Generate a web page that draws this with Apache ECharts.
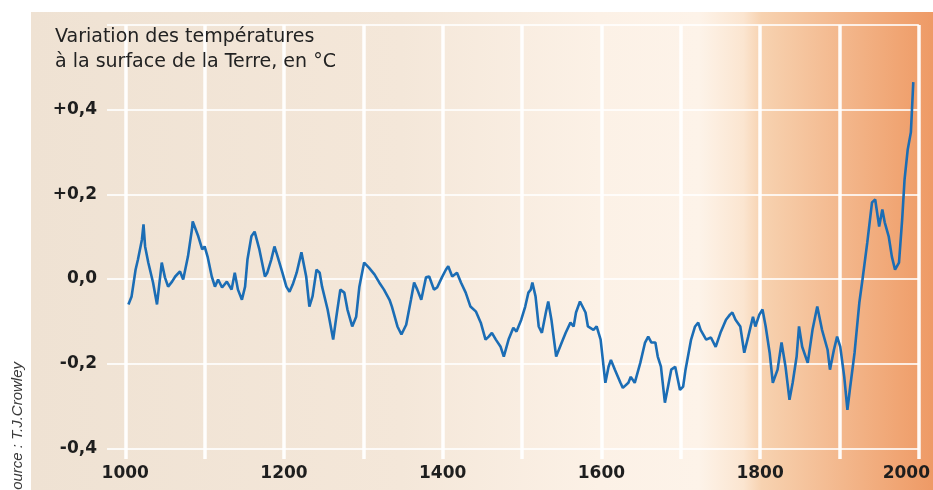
<!DOCTYPE html>
<html>
<head>
<meta charset="utf-8">
<script src="https://cdn.jsdelivr.net/npm/echarts@6/dist/echarts.min.js"></script>
<style>
html,body{margin:0;padding:0;background:#fff;}
#chart{width:933px;height:490px;}
</style>
</head>
<body>
<div id="chart"></div>
<script>
// Data
var years = [1004,1008,1013,1016,1021,1023,1025,1029,1035,1040,1046,1050,1054,1059,1063,1069,1073,1079,1084,1085,1092,1097,1100,1104,1109,1113,1117,1122,1128,1134,1138,1142,1147,1151,1154,1159,1163,1169,1176,1179,1184,1188,1192,1198,1203,1207,1211,1216,1222,1228,1232,1236,1241,1245,1248,1255,1262,1266,1271,1276,1280,1286,1291,1295,1301,1307,1314,1320,1326,1333,1336,1343,1348,1354,1360,1364,1368,1373,1379,1383,1389,1393,1399,1404,1407,1412,1418,1423,1429,1435,1442,1448,1454,1458,1462,1467,1473,1477,1483,1489,1493,1499,1504,1508,1511,1513,1517,1521,1525,1530,1533,1537,1543,1550,1555,1561,1565,1568,1573,1580,1583,1590,1594,1599,1605,1609,1612,1617,1624,1627,1634,1637,1642,1649,1655,1659,1663,1668,1671,1675,1680,1684,1688,1693,1699,1703,1706,1713,1718,1722,1725,1732,1738,1744,1750,1757,1762,1765,1769,1775,1780,1785,1791,1794,1799,1803,1807,1812,1816,1822,1827,1832,1837,1841,1846,1849,1853,1860,1866,1872,1878,1885,1888,1893,1897,1901,1906,1910,1913,1919,1925,1929,1935,1941,1945,1950,1954,1957,1962,1966,1970,1975,1979,1982,1986,1990,1993];
var temps = [-0.060,-0.041,0.022,0.046,0.093,0.129,0.077,0.039,-0.008,-0.060,0.039,0.004,-0.018,-0.006,0.006,0.018,-0.001,0.053,0.117,0.136,0.101,0.070,0.077,0.051,0.006,-0.018,-0.001,-0.020,-0.006,-0.025,0.015,-0.025,-0.049,-0.018,0.046,0.101,0.112,0.070,0.006,0.015,0.046,0.077,0.053,0.015,-0.018,-0.030,-0.013,0.015,0.063,0.006,-0.065,-0.041,0.022,0.015,-0.018,-0.072,-0.143,-0.089,-0.025,-0.032,-0.072,-0.112,-0.089,-0.018,0.039,0.027,0.011,-0.008,-0.025,-0.049,-0.065,-0.112,-0.131,-0.108,-0.049,-0.008,-0.025,-0.049,0.004,0.006,-0.025,-0.020,0.004,0.022,0.030,0.006,0.015,-0.008,-0.032,-0.065,-0.077,-0.103,-0.143,-0.136,-0.127,-0.143,-0.160,-0.183,-0.143,-0.115,-0.124,-0.096,-0.065,-0.032,-0.025,-0.008,-0.041,-0.112,-0.127,-0.079,-0.053,-0.096,-0.183,-0.150,-0.127,-0.103,-0.112,-0.079,-0.053,-0.079,-0.112,-0.120,-0.112,-0.143,-0.245,-0.207,-0.191,-0.214,-0.245,-0.257,-0.245,-0.231,-0.245,-0.198,-0.150,-0.136,-0.150,-0.150,-0.183,-0.207,-0.292,-0.254,-0.214,-0.207,-0.262,-0.254,-0.214,-0.143,-0.112,-0.103,-0.120,-0.143,-0.138,-0.160,-0.127,-0.096,-0.084,-0.079,-0.096,-0.112,-0.174,-0.136,-0.089,-0.112,-0.084,-0.072,-0.112,-0.174,-0.245,-0.214,-0.150,-0.207,-0.285,-0.245,-0.183,-0.112,-0.160,-0.198,-0.120,-0.065,-0.120,-0.167,-0.214,-0.167,-0.136,-0.160,-0.231,-0.309,-0.262,-0.174,-0.056,-0.001,0.086,0.181,0.188,0.124,0.164,0.134,0.101,0.053,0.022,0.039,0.141,0.235,0.306,0.347,0.465];
var xGridYears = [1000,1100,1200,1300,1400,1500,1600,1700,1800,1900,2000];
var xLabelYears = [1000,1200,1400,1600,1800,2000];
var yGridValues = [-0.4,-0.2,0,0.2,0.4,0.6];
var yLabelValues = [-0.4,-0.2,0,0.2,0.4];
var yLabelTexts = {'-0.4':'-0,4','-0.2':'-0,2','0':'0,0','0.2':'+0,2','0.4':'+0,4'};
var titleLines = ['Variation des températures', 'à la surface de la Terre, en °C'];
var sourceText = 'Source : T.J.Crowley';

var seriesData = years.map(function(y,i){return [y, temps[i]];});

var chart = echarts.init(document.getElementById('chart'), null, {renderer:'canvas'});
chart.setOption({
  backgroundColor:'#ffffff',
  animation:false,
  graphic:[
    {type:'rect', z:-10, silent:true, shape:{x:31,y:12,width:902,height:478},
     style:{fill:{type:'linear',x:0,y:0,x2:1,y2:0,colorStops:[
       {offset:0,color:'#efe2d3'},
       {offset:0.41,color:'#f4e7d9'},
       {offset:0.63,color:'#fcf1e6'},
       {offset:0.74,color:'#fdf3e9'},
       {offset:0.79,color:'#fbe5d0'},
       {offset:0.81,color:'#f7d2b0'},
       {offset:0.90,color:'#f3b78c'},
       {offset:0.965,color:'#f0a472'},
       {offset:1,color:'#ee9a66'}]}}},
    {type:'text', z:100, left:55, top:28, style:{text:titleLines[0], font:'19px "DejaVu Sans"', fill:'#222222'}},
    {type:'text', z:100, left:55, top:53, style:{text:titleLines[1], font:'19px "DejaVu Sans"', fill:'#222222'}},
    {type:'text', z:100, x:18, y:362, rotation:Math.PI/2, style:{text:sourceText, font:'italic 15px "Liberation Sans"', fill:'#3a3a3a', align:'right', verticalAlign:'middle'}}
  ],
  grid:{left:107, right:11, top:25, bottom:31, containLabel:false},
  xAxis:{
    type:'value', min:977, max:2000,
    axisLine:{show:false},
    axisTick:{show:false, customValues:xGridYears},
    splitLine:{show:true, lineStyle:{color:'#ffffff', width:3.5, opacity:0.95}},
    axisLabel:{
      customValues:xLabelYears, margin:6,
      fontFamily:'DejaVu Sans', fontWeight:'bold', fontSize:17, color:'#1e1e1e',
      formatter:function(v){ return v===2000 ? '{e|2000}' : String(v); },
      rich:{e:{fontFamily:'DejaVu Sans', fontWeight:'bold', fontSize:17, color:'#1e1e1e', padding:[0,25,0,0]}}
    }
  },
  yAxis:{
    type:'value', min:-0.425, max:0.6,
    axisLine:{show:false},
    axisTick:{show:false, customValues:yGridValues},
    splitLine:{show:true, lineStyle:{color:'#ffffff', width:2.2, opacity:0.8}},
    axisLabel:{
      customValues:yLabelValues, margin:10,
      fontFamily:'DejaVu Sans', fontWeight:'bold', fontSize:17, color:'#1e1e1e',
      formatter:function(v){ var k = String(Math.round(v*10)/10); return yLabelTexts[k] || k; }
    }
  },
  series:[{
    type:'line', data:seriesData, showSymbol:false, symbol:'none',
    lineStyle:{color:'#1b6db5', width:2.6},
    z:3
  }]
});
</script>
</body>
</html>
